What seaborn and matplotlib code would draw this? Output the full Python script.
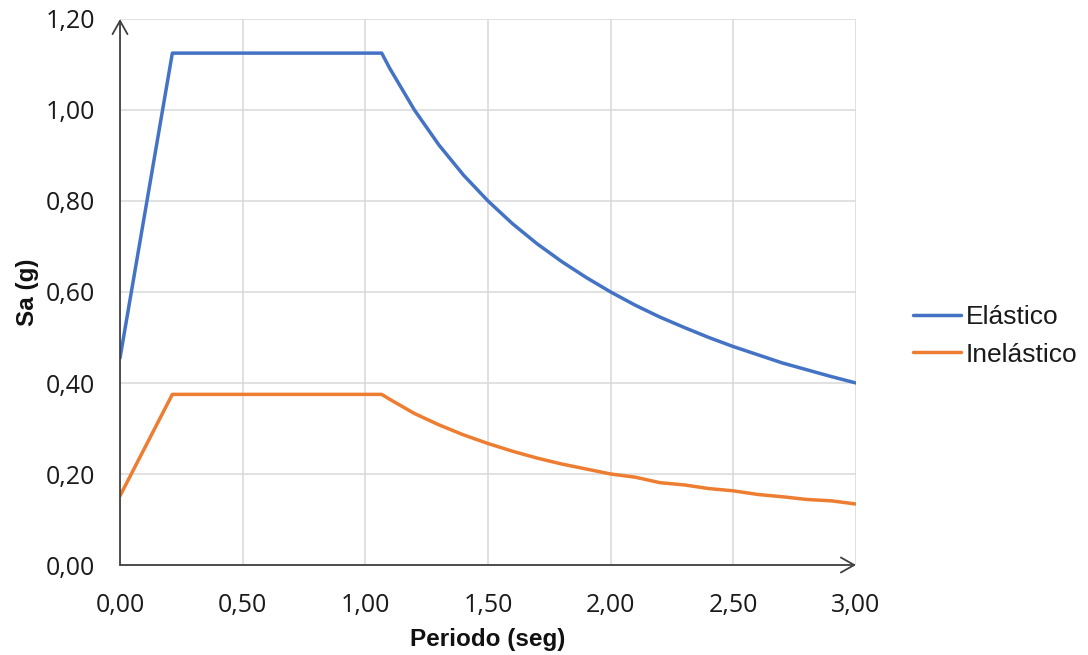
import numpy as np
import pandas as pd
import matplotlib
matplotlib.use("Agg")
import matplotlib.pyplot as plt
from matplotlib.ticker import FuncFormatter, MultipleLocator
import seaborn as sns

# Data
periodo = [0.0, 0.2133, 1.0667, 1.1, 1.2, 1.3, 1.4, 1.5, 1.6, 1.7, 1.8, 1.9, 2.0,
           2.1, 2.2, 2.3, 2.4, 2.5, 2.6, 2.7, 2.8, 2.9, 3.0]
elastico = [0.455, 1.125, 1.125, 1.091, 1.000, 0.923, 0.857, 0.800, 0.750, 0.706, 0.667,
            0.632, 0.600, 0.571, 0.545, 0.522, 0.500, 0.480, 0.462, 0.444, 0.429,
            0.414, 0.400]
inelastico = [0.152, 0.375, 0.375, 0.364, 0.333, 0.308, 0.286, 0.267, 0.250, 0.235, 0.222,
              0.211, 0.200, 0.193, 0.181, 0.176, 0.168, 0.163, 0.155, 0.150, 0.144,
              0.141, 0.134]
series_names = ["Elástico", "Inelástico"]
colors = ["#4472C4", "#ED7D31"]

df = pd.concat([
    pd.DataFrame({"Periodo": periodo, "Sa": elastico, "Serie": series_names[0]}),
    pd.DataFrame({"Periodo": periodo, "Sa": inelastico, "Serie": series_names[1]}),
])

sns.set_theme(style="white")
plt.rcParams["font.family"] = ["Liberation Sans", "DejaVu Sans"]

fig = plt.figure(figsize=(10.88, 6.55), dpi=100)
ax = fig.add_axes([0.1103, 0.1374, 0.6765, 0.8336])

sns.lineplot(data=df, x="Periodo", y="Sa", hue="Serie", palette=colors,
             linewidth=2.5, ax=ax, sort=False, estimator=None)

ax.set_xlim(0, 3)
ax.set_ylim(0, 1.2)
ax.xaxis.set_major_locator(MultipleLocator(0.5))
ax.yaxis.set_major_locator(MultipleLocator(0.2))
fmt = FuncFormatter(lambda v, p: f"{v:.2f}".replace(".", ","))
ax.xaxis.set_major_formatter(fmt)
ax.yaxis.set_major_formatter(fmt)
ax.grid(True, color="#D9D9D9", linewidth=1.1)
ax.set_axisbelow(True)
for s in ax.spines.values():
    s.set_visible(False)
ax.tick_params(axis="both", length=0, labelsize=18, colors="#1a1a1a")
ax.tick_params(axis="y", pad=18)
ax.tick_params(axis="x", pad=20)
for lab in ax.get_xticklabels() + ax.get_yticklabels():
    lab.set_fontfamily(["Open Sans", "DejaVu Sans"])

# axis arrows
ax.annotate("", xy=(0, 1.0), xytext=(0, 0), xycoords="axes fraction",
            arrowprops=dict(arrowstyle="->,head_length=0.8,head_width=0.45",
                            color="#404040", lw=1.3, shrinkA=0, shrinkB=0),
            annotation_clip=False)
ax.annotate("", xy=(1.0, 0), xytext=(0, 0), xycoords="axes fraction",
            arrowprops=dict(arrowstyle="->,head_length=0.8,head_width=0.45",
                            color="#404040", lw=1.3, shrinkA=0, shrinkB=0),
            annotation_clip=False)

ax.set_xlabel("Periodo (seg)", fontsize=17.5, fontweight="bold", color="#111111", labelpad=7)
ax.set_ylabel("Sa (g)", fontsize=17.5, fontweight="bold", color="#111111", labelpad=5)

leg = ax.legend(loc="center left", bbox_to_anchor=(913 / 1088, 1 - 336 / 655),
                bbox_transform=fig.transFigure, frameon=False, borderpad=0,
                borderaxespad=0, fontsize=19, handlelength=1.8, handletextpad=0.2,
                labelspacing=0.5)
for t in leg.get_texts():
    t.set_color("#1a1a1a")

fig.savefig("out.png", dpi=100)
